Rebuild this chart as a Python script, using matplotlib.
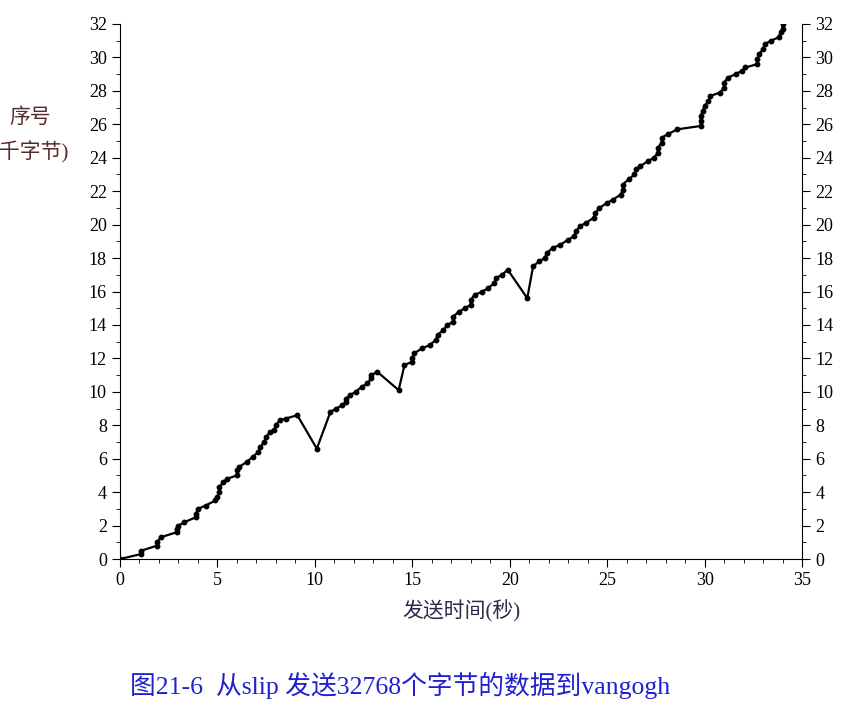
import matplotlib
matplotlib.use("Agg")
import matplotlib.pyplot as plt
from matplotlib.ticker import MultipleLocator

x_sec = [0,1.1,1.1,1.9,1.9,2.1,2.9,2.9,3.0,3.3,3.9,3.9,4.0,4.4,4.9,5.0,5.1,5.1,5.3,5.5,6.0,6.0,6.1,6.5,6.8,7.1,7.2,7.4,7.5,7.7,7.9,8.0,8.2,8.5,9.1,
         10.1,10.8,11.1,11.4,11.6,11.6,11.8,12.1,12.4,12.7,12.9,12.9,13.2,14.3,14.6,15.0,15.0,15.1,15.5,15.9,16.2,16.3,16.6,16.8,17.1,17.1,17.4,17.7,18.0,18.0,18.2,18.6,18.9,19.2,19.3,19.6,19.9,
         20.9,21.2,21.5,21.8,21.9,22.2,22.6,23.0,23.3,23.4,23.6,23.9,24.3,24.4,24.6,25.0,25.3,25.7,25.8,25.8,26.1,26.4,26.5,26.7,27.1,27.4,27.6,27.6,27.8,27.8,28.1,28.6,
         29.8,29.8,29.8,29.9,30.0,30.2,30.3,30.8,31.0,31.0,31.2,31.6,31.9,32.1,32.7,32.7,32.8,33.0,33.1,33.4,33.8,33.9,34.0,34.0]
seq_kb = [0,0.3,0.5,0.8,1.0,1.3,1.6,1.8,2.0,2.2,2.5,2.7,3.0,3.2,3.5,3.7,4.0,4.3,4.6,4.8,5.0,5.3,5.5,5.8,6.1,6.4,6.7,7.0,7.3,7.6,7.7,8.0,8.3,8.4,8.6,
          6.6,8.8,9.0,9.2,9.4,9.6,9.8,10.0,10.3,10.5,10.8,11.0,11.2,10.1,11.6,11.8,12.0,12.3,12.6,12.8,13.1,13.4,13.7,14.0,14.2,14.5,14.8,15.0,15.2,15.5,15.8,16.0,16.2,16.5,16.8,17.0,17.3,
          15.6,17.5,17.8,18.0,18.3,18.6,18.8,19.1,19.3,19.6,19.9,20.1,20.4,20.7,21.0,21.3,21.5,21.8,22.1,22.4,22.7,23.0,23.3,23.5,23.8,24.0,24.3,24.6,24.9,25.2,25.4,25.7,
          25.9,26.2,26.5,26.8,27.1,27.4,27.7,27.9,28.2,28.5,28.8,29.0,29.2,29.4,29.6,29.9,30.2,30.5,30.8,31.0,31.2,31.5,31.7,32.0]
x_ticks = [0,5,10,15,20,25,30,35]
y_ticks = list(range(0,33,2))

plt.rcParams['font.family'] = ['Liberation Serif', 'Noto Sans CJK SC']
fig = plt.figure(figsize=(8.46,7.11), dpi=100)
ax = fig.add_axes([120/846, 1-559/711, 682/846, 535/711])
ax.plot(x_sec, seq_kb, color='black', lw=1.6, marker='o', ms=3.2)
ax.set_xlim(0,35); ax.set_ylim(0,32)
ax.set_xticks(x_ticks); ax.set_yticks(y_ticks)
ax.xaxis.set_minor_locator(MultipleLocator(1))
ax.yaxis.set_minor_locator(MultipleLocator(1))
ax.spines['top'].set_visible(False)
ax.tick_params(which='both', direction='out', labelsize=13, right=True, labelright=True)
ax.tick_params(which='major', length=6)
ax.tick_params(which='minor', length=3)
ax.set_xlabel('发送时间(秒)', fontsize=15, color='#2a2a4a', labelpad=8)
fig.text(30/846, 1-118/711, '序号', fontsize=15, color='#5a2a2a', ha='center', va='center')
fig.text(30/846, 1-152/711, '(千字节)', fontsize=15, color='#5a2a2a', ha='center', va='center')
fig.text(400/846, 1-685/711, '图21-6  从slip 发送32768个字节的数据到vangogh', fontsize=18.5, color='#2020d0', ha='center', va='center')
fig.savefig('out.png', dpi=100)
